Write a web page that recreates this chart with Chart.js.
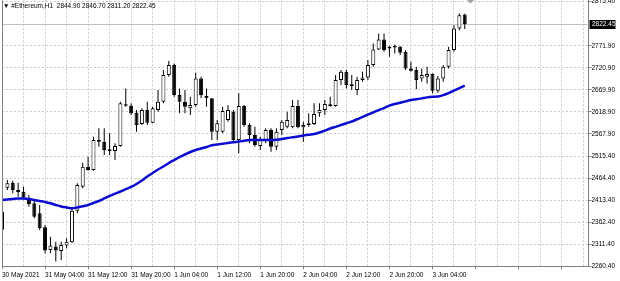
<!DOCTYPE html>
<html>
<head>
<meta charset="utf-8">
<script src="https://cdn.jsdelivr.net/npm/chart.js@4.4.0/dist/chart.umd.min.js"></script>
<style>
body { margin: 0; background: #ffffff; }
#wrap { width: 620px; height: 281px; }
</style>
</head>
<body>
<div id="wrap"><canvas id="myChart"></canvas></div>
<script>
var symbolTitle = "#Ethereum,H1";
var lastBar = [2844.90, 2846.70, 2811.20, 2822.45];
var tickLabels = ["30 May 2021", "31 May 04:00", "31 May 12:00", "31 May 20:00", "1 Jun 04:00", "1 Jun 12:00",
	"1 Jun 20:00", "2 Jun 04:00", "2 Jun 12:00", "2 Jun 20:00", "3 Jun 04:00"];
var yTicks = [2260.40, 2311.40, 2362.40, 2413.40, 2464.40, 2515.40, 2567.90, 2618.90, 2669.90, 2720.90, 2771.90, 2875.40];

var opens = [2387.0, 2442.7, 2454.3, 2437.3, 2433.4, 2415.8, 2406.5, 2383.3, 2350.8, 2298.2,
	2305.9, 2295.9, 2308.2, 2316.1, 2389.3, 2445.0, 2491.4, 2483.7, 2553.3, 2549.3,
	2531.7, 2527.8, 2539.4, 2632.8, 2632.8, 2616.6, 2590.4, 2622.9, 2593.4, 2622.9,
	2642.1, 2704.0, 2727.2, 2657.6, 2642.1, 2626.8, 2634.5, 2696.4, 2655.3, 2650.0,
	2572.5, 2572.5, 2599.7, 2618.9, 2553.3, 2632.1, 2588.1, 2564.9, 2539.4, 2553.3,
	2576.5, 2537.8, 2576.5, 2584.1, 2582.7, 2632.1, 2582.7, 2588.1, 2590.4, 2615.2,
	2622.9, 2636.1, 2632.1, 2692.4, 2711.7, 2682.5, 2669.2, 2692.4, 2698.7, 2727.2,
	2763.6, 2786.8, 2765.9, 2771.3, 2769.7, 2758.1, 2719.6, 2715.6, 2696.4, 2700.1,
	2706.3, 2667.6, 2696.4, 2723.3, 2762.0, 2812.3, 2844.90];
var highs = [2395.6, 2460.5, 2458.9, 2454.3, 2445.0, 2425.7, 2414.2, 2402.6, 2356.2, 2329.0,
	2317.4, 2317.4, 2325.3, 2393.3, 2452.9, 2500.7, 2514.6, 2560.9, 2580.4, 2580.4,
	2568.8, 2545.6, 2642.1, 2673.2, 2638.4, 2622.9, 2626.8, 2642.1, 2630.5, 2669.2,
	2715.6, 2737.2, 2731.2, 2673.2, 2669.2, 2653.7, 2709.4, 2700.1, 2673.2, 2650.7,
	2599.7, 2630.5, 2634.5, 2622.9, 2661.6, 2634.5, 2592.0, 2584.1, 2560.9, 2580.4,
	2580.4, 2580.4, 2599.7, 2618.9, 2646.1, 2646.1, 2595.7, 2615.2, 2638.4, 2638.4,
	2646.1, 2653.7, 2704.0, 2715.6, 2715.6, 2704.0, 2700.1, 2711.7, 2738.8, 2777.5,
	2800.7, 2800.7, 2771.3, 2775.2, 2771.3, 2762.0, 2734.9, 2723.3, 2719.6, 2723.3,
	2708.0, 2701.7, 2727.2, 2769.7, 2820.0, 2847.1, 2846.70];
var lows = [2338.0, 2437.3, 2429.7, 2421.8, 2415.8, 2398.6, 2371.7, 2344.6, 2290.6, 2290.6,
	2271.1, 2275.0, 2302.1, 2314.4, 2383.3, 2441.3, 2482.1, 2482.1, 2537.8, 2518.5,
	2518.5, 2506.9, 2537.8, 2630.5, 2611.3, 2572.5, 2588.1, 2588.1, 2592.0, 2618.9,
	2638.4, 2700.1, 2653.7, 2615.2, 2615.2, 2611.3, 2630.5, 2650.0, 2630.5, 2553.3,
	2553.3, 2568.8, 2595.7, 2551.7, 2522.5, 2584.1, 2545.6, 2537.8, 2530.1, 2545.6,
	2526.2, 2530.1, 2564.9, 2580.4, 2580.4, 2580.4, 2549.3, 2584.1, 2588.1, 2607.3,
	2611.3, 2630.5, 2630.5, 2680.8, 2673.2, 2669.2, 2657.6, 2688.5, 2692.4, 2723.3,
	2762.0, 2758.1, 2746.5, 2754.4, 2750.4, 2715.6, 2711.7, 2670.9, 2688.5, 2684.8,
	2661.6, 2663.0, 2688.5, 2719.6, 2758.1, 2808.4, 2811.20];
var closes = [2345.0, 2452.9, 2437.3, 2432.7, 2420.4, 2404.2, 2375.4, 2348.5, 2296.6, 2308.2,
	2296.6, 2309.8, 2317.4, 2389.3, 2448.9, 2491.4, 2483.7, 2553.3, 2549.3, 2530.1,
	2527.8, 2539.4, 2638.4, 2636.1, 2615.2, 2588.1, 2622.9, 2593.4, 2626.8, 2642.1,
	2704.0, 2727.2, 2657.6, 2642.1, 2630.5, 2634.5, 2696.4, 2657.6, 2650.0, 2572.5,
	2592.0, 2620.5, 2622.9, 2553.3, 2632.1, 2588.1, 2564.9, 2541.7, 2553.3, 2576.5,
	2537.8, 2572.5, 2595.7, 2599.7, 2632.1, 2582.7, 2588.1, 2592.0, 2613.6, 2622.9,
	2636.8, 2632.1, 2692.4, 2711.7, 2680.8, 2678.5, 2692.4, 2698.7, 2727.2, 2763.6,
	2786.8, 2762.0, 2769.7, 2768.3, 2755.7, 2719.6, 2714.0, 2692.4, 2704.0, 2706.3,
	2667.6, 2696.4, 2723.3, 2762.0, 2812.3, 2843.2, 2822.45];
var maValues = [2414.2, 2415.3, 2416.5, 2417.6, 2417.6, 2416.5, 2414.2, 2411.8, 2409.5, 2406.5,
	2402.6, 2399.1, 2396.8, 2394.9, 2396.8, 2399.6, 2402.6, 2407.2, 2411.8, 2417.6,
	2423.4, 2428.8, 2433.8, 2439.2, 2444.3, 2451.3, 2459.4, 2468.6, 2476.8, 2484.9,
	2491.8, 2499.9, 2506.9, 2513.9, 2519.7, 2525.5, 2530.1, 2533.6, 2537.1, 2541.0,
	2542.9, 2544.7, 2546.4, 2548.2, 2549.8, 2551.7, 2553.3, 2553.3, 2553.3, 2553.3,
	2553.3, 2554.0, 2555.6, 2557.9, 2559.8, 2561.6, 2563.7, 2565.6, 2567.2, 2570.7,
	2575.3, 2580.0, 2583.9, 2588.1, 2592.3, 2596.2, 2601.5, 2606.8, 2612.4, 2617.5,
	2622.9, 2627.5, 2633.3, 2636.8, 2639.8, 2643.0, 2646.1, 2647.9, 2650.0, 2652.3,
	2653.7, 2654.2, 2657.6, 2662.3, 2668.1, 2673.9, 2679.7];

var slotCount = 110;
var gridColor = "#cccccc";
var axisColor = "#808080";
var fontFamily = '"Liberation Sans", Arial, sans-serif';

var slots = [];
for (var i = 0; i < slotCount; i++) slots.push(i);

var bodies = [];
var wicks = [];
var bodyColors = [];
for (var i = 0; i < opens.length; i++) {
	bodies.push([opens[i], closes[i]]);
	wicks.push([lows[i], highs[i]]);
	bodyColors.push(closes[i] >= opens[i] ? "#ffffff" : "#000000");
}

var extras = {
	id: "extras",
	beforeDatasetsDraw: function (chart) {
		var ctx = chart.ctx;
		var area = chart.chartArea;
		var y = Math.round(chart.scales.y.getPixelForValue(lastBar[3])) + 0.5;
		ctx.save();
		ctx.strokeStyle = "#c0c0c0";
		ctx.lineWidth = 1;
		ctx.beginPath();
		ctx.moveTo(area.left, y);
		ctx.lineTo(area.right, y);
		ctx.stroke();
		ctx.restore();
	},
	afterDraw: function (chart) {
		var ctx = chart.ctx;
		var area = chart.chartArea;
		ctx.save();
		// left frame line
		ctx.strokeStyle = axisColor;
		ctx.lineWidth = 1;
		ctx.beginPath();
		ctx.moveTo(Math.round(area.left) + 0.5, area.top);
		ctx.lineTo(Math.round(area.left) + 0.5, area.bottom);
		ctx.stroke();
		// header
		ctx.font = "6.5px " + fontFamily;
		ctx.fillStyle = "#000000";
		ctx.textBaseline = "middle";
		ctx.textAlign = "left";
		ctx.fillText("\u25BC " + symbolTitle + "  " + lastBar.map(function (v) { return v.toFixed(2); }).join(" "), 3, 6.5);
		// current price box
		var y = chart.scales.y.getPixelForValue(lastBar[3]);
		ctx.fillStyle = "#000000";
		ctx.fillRect(area.right + 1, Math.round(y) - 4, 26, 9);
		ctx.fillStyle = "#ffffff";
		ctx.fillText(lastBar[3].toFixed(2), area.right + 3.5, y + 0.5);
		// chart shift marker
		ctx.fillStyle = "#a0a0a0";
		ctx.beginPath();
		ctx.moveTo(467, 0);
		ctx.lineTo(474, 0);
		ctx.lineTo(470.5, 3.5);
		ctx.closePath();
		ctx.fill();
		ctx.restore();
	}
};

new Chart("myChart", {
	type: "bar",
	data: {
		labels: slots,
		datasets: [{
			type: "line",
			data: maValues,
			borderColor: "#0c0cd0",
			borderWidth: 2.5,
			pointRadius: 0,
			tension: 0.3,
			order: 0
		}, {
			data: bodies,
			backgroundColor: bodyColors,
			borderColor: "#000000",
			borderWidth: 1,
			borderSkipped: false,
			barThickness: 4,
			minBarLength: 1,
			inflateAmount: 0,
			grouped: false,
			order: 1
		}, {
			data: wicks,
			backgroundColor: "#000000",
			borderWidth: 0,
			barThickness: 1,
			inflateAmount: 0,
			grouped: false,
			order: 2
		}]
	},
	plugins: [extras],
	options: {
		responsive: true,
		maintainAspectRatio: false,
		devicePixelRatio: 1,
		animation: false,
		layout: { padding: { left: 0, right: 5, top: 0, bottom: 0 } },
		plugins: {
			legend: { display: false },
			tooltip: { enabled: false }
		},
		scales: {
			x: {
				type: "category",
				offset: false,
				grid: {
					offset: false,
					color: function (c) { return c.index % 4 === 0 && c.index > 0 ? gridColor : "rgba(0,0,0,0)"; },
					tickColor: function (c) { return c.index % 8 === 0 ? axisColor : "rgba(0,0,0,0)"; },
					tickLength: 3,
					tickBorderDash: []
				},
				border: { color: axisColor, dash: [2, 2] },
				ticks: {
					autoSkip: false,
					maxRotation: 0,
					minRotation: 0,
					align: "start",
					padding: 2,
					color: "#000000",
					font: { family: fontFamily, size: 6.5, lineHeight: 1.2 },
					callback: function (v, i) {
						return (i % 8 === 0 && tickLabels[i / 8]) ? tickLabels[i / 8] : "";
					}
				}
			},
			y: {
				position: "right",
				min: 2260.40,
				max: 2877.6,
				afterBuildTicks: function (scale) {
					scale.ticks = yTicks.map(function (v) { return { value: v }; });
				},
				grid: {
					color: function (c) { return c.index === 0 ? "rgba(0,0,0,0)" : gridColor; },
					tickColor: axisColor,
					tickLength: 3,
					tickBorderDash: []
				},
				border: { color: axisColor, dash: [2, 2] },
				ticks: {
					padding: 0,
					color: "#000000",
					font: { family: fontFamily, size: 6.5, lineHeight: 0.1 },
					callback: function (v) { return Number(v).toFixed(2); }
				}
			}
		}
	}
});
</script>
</body>
</html>
